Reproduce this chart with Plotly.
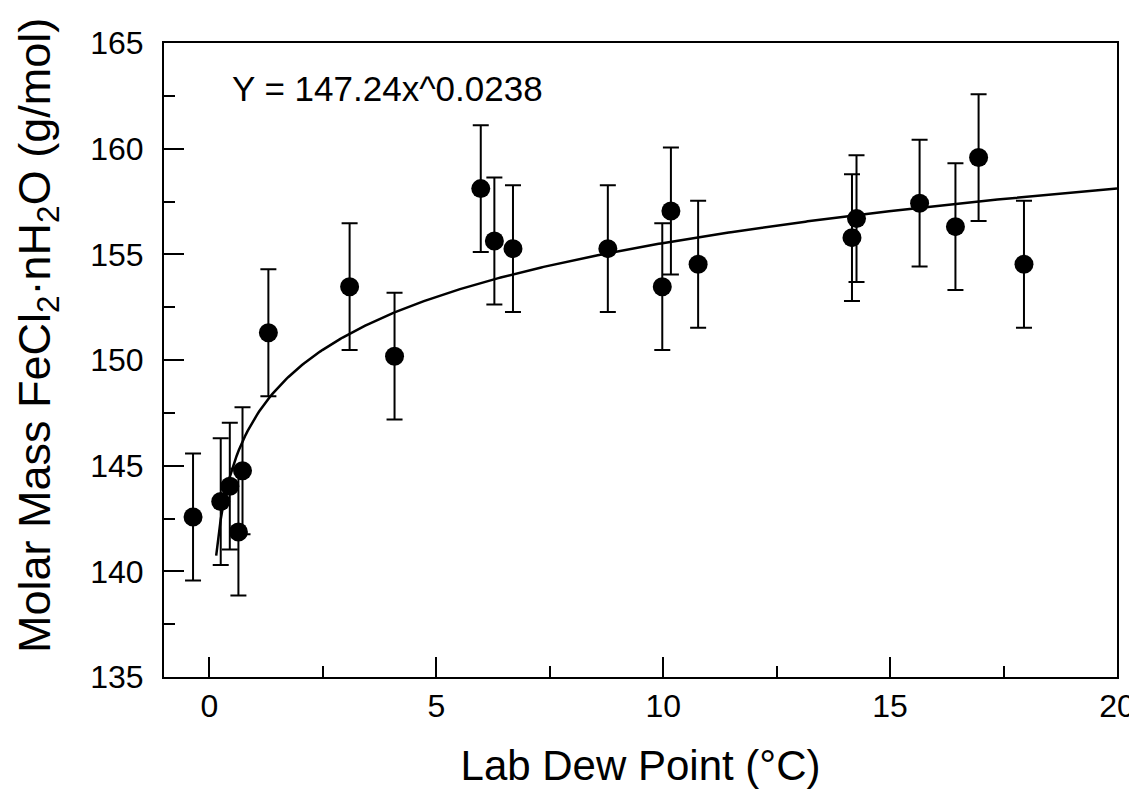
import numpy as np
import plotly.graph_objects as go

# Data
dew_point = [-0.36, 0.25, 0.45, 0.64, 0.73, 1.30, 3.09, 4.08, 5.98, 6.28, 6.69,
             8.78, 9.98, 10.17, 10.77, 14.16, 14.26, 15.65, 16.44, 16.95, 17.95]
molar_mass = [142.57, 143.3, 144.03, 141.86, 144.76, 151.29, 153.47, 150.18, 158.11,
              155.63, 155.27, 155.27, 153.47, 157.05, 154.53, 155.79, 156.69, 157.42,
              156.31, 159.58, 154.53]
error = [3.0] * len(dew_point)

# Power-law fit stated on the chart: Y = 147.24 x^0.0238
fit_a = 147.24
fit_b = 0.0238
fit_x_start = 0.15
fit_x_end = 20.0
fit_x = np.linspace(fit_x_start, fit_x_end, 400)
fit_y = fit_a * fit_x ** fit_b

x_ticks = [0, 5, 10, 15, 20]
y_ticks = [135, 140, 145, 150, 155, 160, 165]

font_family = "Liberation Sans, Arial, sans-serif"

# page body has an 8px margin, so the figure is offset by 8px
OFF = 8
PL, PR, PT, PB = 164, 1117, 43, 677          # target plot box in page pixels
W, H = 1137 - OFF, 789 - OFF
L, T = PL - OFF, PT - OFF
R = OFF + W - PR
B = OFF + H - PB
plot_w = PR - PL
plot_h = PB - PT


def px_to_paper(px, py):
    return (px - PL) / plot_w, 1 - (py - PT) / plot_h


fig = go.Figure()
fig.add_trace(go.Scatter(
    x=fit_x, y=fit_y, mode="lines",
    line=dict(color="black", width=2.5),
    showlegend=False, hoverinfo="skip"))
fig.add_trace(go.Scatter(
    x=dew_point, y=molar_mass, mode="markers",
    marker=dict(color="black", size=19),
    error_y=dict(type="data", array=error, visible=True,
                 color="black", thickness=2, width=8),
    showlegend=False))

ax, ay = px_to_paper(230, 88.5)
fig.add_annotation(
    x=ax, y=ay, xref="paper", yref="paper", xanchor="left", yanchor="middle",
    text="Y = 147.24x^0.0238", showarrow=False,
    font=dict(size=35, color="black", family=font_family))

tx, ty = px_to_paper(37, 336)
fig.add_annotation(
    x=tx, y=ty, xref="paper", yref="paper", xanchor="center", yanchor="middle",
    text="Molar Mass FeCl<sub>2</sub>·nH<sub>2</sub>O (g/mol)", textangle=-90,
    showarrow=False, font=dict(size=45, color="black", family=font_family))

axis_common = dict(
    showgrid=False, zeroline=False, automargin=False,
    showline=True, linecolor="black", linewidth=2, mirror=True,
    ticks="inside", ticklen=20, tickwidth=2, tickcolor="black",
    tickfont=dict(size=32, color="black", family=font_family),
)

fig.update_xaxes(
    range=[-1, 20], tickvals=x_ticks,
    minor=dict(dtick=2.5, tick0=0, ticks="inside", ticklen=11, tickwidth=2,
               tickcolor="black"),
    title=dict(text="Lab Dew Point (°C)", standoff=29,
               font=dict(size=42, color="black", family=font_family)),
    **axis_common)
fig.update_yaxes(
    range=[135, 165], tickvals=y_ticks, ticklabelstandoff=12,
    minor=dict(dtick=2.5, tick0=135, ticks="inside", ticklen=11, tickwidth=2,
               tickcolor="black"),
    **axis_common)

fig.update_layout(
    width=W, height=H,
    margin=dict(l=L, r=R, t=T, b=B),
    paper_bgcolor="white", plot_bgcolor="white",
    font=dict(family=font_family, color="black"),
)

fig.write_html("out.html")
